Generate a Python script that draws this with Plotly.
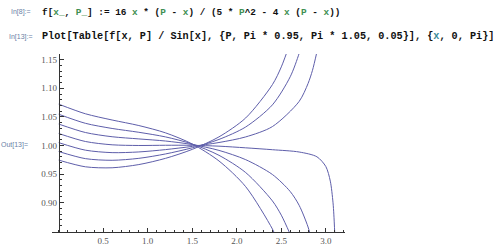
import plotly.graph_objects as go

# values (7 curves, P = Pi*0.95 ... step 0.05)
x_p1 = [0, 0.3, 0.6, 0.9, 1.2, 1.5, 1.8, 2.1, 2.4, 2.45]
y_p1 = [1.0722, 1.0554, 1.0445, 1.0348, 1.0220, 1.0025, 0.9728, 0.9278, 0.8537, 0.8360]

x_p2 = [0, 0.3, 0.6, 0.9, 1.2, 1.5, 1.8, 2.1, 2.4, 2.5, 2.6]
y_p2 = [1.0546, 1.0387, 1.0297, 1.0230, 1.0149, 1.0024, 0.9827, 0.9525, 0.9029, 0.8779, 0.8445]

x_p3 = [0, 0.3, 0.6, 0.9, 1.2, 1.5, 1.8, 2.1, 2.4, 2.6, 2.7, 2.8, 2.85]
y_p3 = [1.0374, 1.0226, 1.0152, 1.0114, 1.0077, 1.0016, 0.9913, 0.9751, 0.9491, 0.9193, 0.8952, 0.8573, 0.8285]

x_p4 = [0, 0.3, 0.6, 0.9, 1.2, 1.5, 1.8, 2.1, 2.4, 2.7, 2.9, 3.0, 3.05, 3.08, 3.09, 3.10]
y_p4 = [1.0209, 1.0069, 1.0011, 0.9999, 1.0003, 1.0002, 0.9987, 0.9958, 0.9925, 0.9885, 0.9801, 0.9630, 0.9375, 0.9007, 0.8785, 0.8453]

x_p5 = [0, 0.3, 0.6, 0.9, 1.2, 1.5, 1.8, 2.1, 2.4, 2.7, 2.8, 2.85, 2.9]
y_p5 = [1.0049, 0.9917, 0.9874, 0.9886, 0.9927, 0.9983, 1.0051, 1.0149, 1.0330, 1.0770, 1.1083, 1.1315, 1.1640]

x_p6 = [0, 0.3, 0.6, 0.9, 1.2, 1.5, 1.8, 2.1, 2.4, 2.6, 2.7, 2.75]
y_p6 = [0.9893, 0.9769, 0.9740, 0.9774, 0.9851, 0.9959, 1.0105, 1.0323, 1.0710, 1.1202, 1.1610, 1.1889]

x_p7 = [0, 0.3, 0.6, 0.9, 1.2, 1.5, 1.8, 2.1, 2.4, 2.5, 2.6]
y_p7 = [0.9743, 0.9626, 0.9609, 0.9665, 0.9774, 0.9931, 1.0150, 1.0481, 1.1064, 1.1375, 1.1798]

series = [(x_p1, y_p1), (x_p2, y_p2), (x_p3, y_p3), (x_p4, y_p4),
          (x_p5, y_p5), (x_p6, y_p6), (x_p7, y_p7)]

x_tickvals = [0.5, 1.0, 1.5, 2.0, 2.5, 3.0]
x_ticktext = ["0.5", "1.0", "1.5", "2.0", "2.5", "3.0"]
y_tickvals = [0.90, 0.95, 1.00, 1.05, 1.10, 1.15]
y_ticktext = ["0.90", "0.95", "1.00", "1.05", "1.10", "1.15"]

line1_label = "In[8]:="
line2_label = "In[13]:="
out_label = "Out[13]="

G = "#3f8f52"   # pattern variable colour
T = "#3a8a9a"   # local variable colour
line1 = ("f[<span style='color:%s'>x_</span>, <span style='color:%s'>P_</span>] := 16 "
         "<span style='color:%s'>x</span> * (<span style='color:%s'>P</span> - "
         "<span style='color:%s'>x</span>) / (5 * <span style='color:%s'>P</span>^2 - 4 "
         "<span style='color:%s'>x</span> (<span style='color:%s'>P</span> - "
         "<span style='color:%s'>x</span>))") % ((G,) * 9)
line2 = ("Plot[Table[f[x, P] / Sin[x], {P, Pi * 0.95, Pi * 1.05, 0.05}], "
         "{<span style='color:%s'>x</span>, 0, Pi}]") % T

W, H = 500, 246
xr = [-0.075, 3.215]
yr = [0.8485, 1.160]
L, R, TOP, B = 51.6, 154.6, 54, 14.4
pw = W - L - R
ph = H - TOP - B

def px(xp):
    return (xp - L) / pw

def py(yp):
    return (H - B - yp) / ph

fig = go.Figure()
for xs, ys in series:
    fig.add_trace(go.Scatter(x=xs, y=ys, mode="lines",
                             line=dict(color="#5e5eaa", width=1.0, shape="spline", smoothing=0.8),
                             showlegend=False, hoverinfo="skip"))

tickfont = dict(family="Liberation Serif", size=9, color="#555555")
fig.update_layout(
    width=W, height=H,
    margin=dict(l=L, r=R, t=TOP, b=B, pad=0),
    paper_bgcolor="white", plot_bgcolor="white",
    xaxis=dict(range=xr, showgrid=False, zeroline=False, showline=True,
               linecolor="#333333", linewidth=1,
               tickmode="array", tickvals=x_tickvals, ticktext=x_ticktext,
               ticks="inside", ticklen=4, tickwidth=1, tickcolor="#333333",
               minor=dict(dtick=0.1, tick0=0, ticks="inside", ticklen=2, tickcolor="#333333"),
               tickfont=tickfont, automargin=False, fixedrange=True),
    yaxis=dict(range=yr, showgrid=False, zeroline=False, showline=True,
               linecolor="#333333", linewidth=1,
               anchor="free", position=(0 - xr[0]) / (xr[1] - xr[0]),
               tickmode="array", tickvals=y_tickvals, ticktext=y_ticktext,
               ticks="inside", ticklen=4, tickwidth=1, tickcolor="#333333",
               minor=dict(dtick=0.01, tick0=0.85, ticks="inside", ticklen=2, tickcolor="#333333"),
               tickfont=tickfont, automargin=False, fixedrange=True),
)

labfont = dict(family="Liberation Sans", size=7, color="#6a7fa6")
code1 = dict(family="Liberation Mono", size=9.4, color="#111111")
code2 = dict(family="Liberation Mono", size=10.2, color="#111111")
anns = [
    dict(x=px(33), y=py(12.5), text=line1_label, font=labfont, xanchor="right"),
    dict(x=px(40), y=py(12.5), text="<b>" + line1 + "</b>", font=code1, xanchor="left"),
    dict(x=px(35), y=py(37), text=line2_label, font=labfont, xanchor="right"),
    dict(x=px(40), y=py(37), text="<b>" + line2 + "</b>", font=code2, xanchor="left"),
    dict(x=px(30), y=py(145), text=out_label, font=labfont, xanchor="right"),
]
for a in anns:
    a.update(xref="paper", yref="paper", yanchor="middle", showarrow=False)
    fig.add_annotation(**a)

fig.write_html("out.html")
